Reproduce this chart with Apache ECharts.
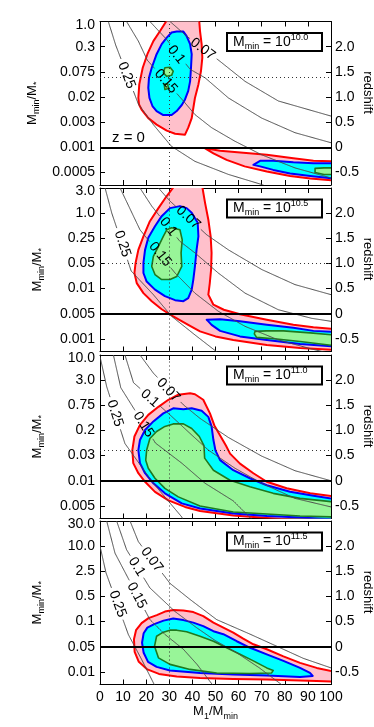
<!DOCTYPE html>
<html>
<head>
<meta charset="utf-8">
<script src="https://cdn.jsdelivr.net/npm/echarts@6/dist/echarts.min.js"></script>
<style>
  html, body { margin: 0; padding: 0; background: #fff; }
  #chart { width: 374px; height: 727px; }
</style>
</head>
<body>
<div id="chart"></div>
<script>
// x = M1/Mmin, y = redshift; left labels give Mmin/M* at the same heights
const X_TICKS_STEP = 10;
const Z_TICKS = [-0.5, 0, 0.5, 1, 1.5, 2];
const Z_LABELS = ['-0.5', '0', '0.5', '1.0', '1.5', '2.0'];
const LEFT_POS = [-0.5, 0, 0.5, 1, 1.5, 2, 2.43];
const LEFT_LABELS = [
  ['0.0005', '0.001', '0.003', '0.02', '0.075', '0.3', '1.0'],
  ['0.001', '0.005', '0.01', '0.05', '0.25', '1.0', '3.0'],
  ['0.005', '0.01', '0.03', '0.2', '0.75', '3.0', '10.0'],
  ['0.01', '0.05', '0.1', '0.5', '2.5', '10.0', '30.0']
];
const MMIN_EXP = ['10.0', '10.5', '11.0', '11.5'];
const DOT_X = 30;
const DOT_Z = [1.39, 1.0, 0.61, null];

// confidence regions, [x, z] outlines
const P1_RED = [
  [[30,2.6],[26.0,2.31],[23.1,2.11],[20.5,1.85],[18.5,1.58],[17.0,1.25],[16.6,0.98],[16.9,0.85],[18.0,0.75],[20.9,0.58],[24.5,0.45],[28.9,0.33],[32.5,0.27],[36.8,0.25],[38.2,0.39],[39.7,0.58],[40.4,0.78],[41.1,0.98],[42.6,1.25],[43.7,1.51],[44.3,1.78],[44.0,2.05],[43.3,2.31],[42.8,2.6]],
  [[45.5,-0.02],[52,-0.07],[62,-0.11],[72.2,-0.15],[83.7,-0.22],[92.4,-0.27],[101,-0.28],[101,-0.66],[91,-0.62],[82.3,-0.57],[72.2,-0.48],[62.6,-0.38],[54.8,-0.25],[49.1,-0.12]]
];
const P1_CYAN = [
  [[33.2,2.30],[31.0,2.28],[28.9,2.18],[26.7,2.05],[24.5,1.85],[22.4,1.58],[21.2,1.38],[20.9,1.18],[21.4,0.98],[22.7,0.82],[24.5,0.72],[27.4,0.64],[31.0,0.64],[33.2,0.72],[35.4,0.84],[36.8,0.95],[38.2,1.12],[39.0,1.31],[39.4,1.58],[39.7,1.85],[39.0,2.05],[37.5,2.21],[36.1,2.30]],
  [[66.4,-0.35],[69.3,-0.27],[75,-0.27],[83.7,-0.30],[92.4,-0.32],[101,-0.32],[101,-0.62],[91,-0.57],[82.3,-0.52],[75,-0.45],[69.3,-0.38]]
];
const P1_GREEN = [
  [[28.1,1.58],[30.3,1.59],[31.7,1.51],[31.0,1.43],[28.9,1.41],[27.4,1.48]],
  [[27.8,1.25],[29.3,1.26],[29.6,1.17],[28.1,1.15]],
  [[93.1,-0.42],[97,-0.41],[101,-0.41],[101,-0.54],[97,-0.54],[93.1,-0.50]]
];

const P2_RED = [
  [[33.2,2.6],[28.9,2.34],[25.3,2.10],[21.6,1.84],[18.8,1.54],[16.6,1.27],[15.4,1.01],[14.9,0.81],[15.9,0.61],[18.8,0.41],[22.4,0.25],[26.7,0.09],[31.7,-0.05],[38.2,-0.22],[43.3,-0.35],[50,-0.45],[57.7,-0.52],[72.2,-0.62],[86.6,-0.68],[101,-0.72],[101,-0.30],[92.4,-0.27],[83.7,-0.22],[72.2,-0.12],[60.6,-0.01],[53.6,0.08],[49.1,0.18],[46.9,0.38],[47.5,0.6],[48.1,0.88],[48.3,1.21],[47.9,1.54],[46.9,1.87],[45.5,2.20],[44.0,2.6]]
];
const P2_CYAN = [
  [[34.6,2.14],[30.3,2.10],[26.7,1.94],[23.8,1.74],[20.9,1.51],[19.5,1.27],[18.8,1.01],[18.8,0.81],[20.2,0.64],[23.8,0.48],[28.1,0.35],[32.5,0.27],[36.1,0.25],[38.2,0.31],[39.7,0.48],[40.4,0.68],[41.1,0.94],[41.8,1.27],[42.6,1.54],[42.3,1.81],[39.7,2.01],[37.5,2.10]],
  [[46.2,-0.12],[52,-0.11],[60.6,-0.15],[72.2,-0.22],[83.7,-0.28],[92.4,-0.34],[101,-0.36],[101,-0.65],[86.6,-0.60],[72.2,-0.52],[60.6,-0.45],[52,-0.34],[48.3,-0.22],[46.9,-0.15]]
];
const P2_GREEN = [
  [[31.0,1.71],[34.6,1.67],[35.6,1.47],[35.1,1.21],[35.4,0.94],[33.2,0.74],[30.3,0.68],[26.7,0.68],[23.8,0.78],[22.4,0.94],[23.1,1.14],[25.3,1.34],[27.4,1.54],[28.9,1.67]],
  [[67.1,-0.35],[72,-0.34],[79.4,-0.34],[91,-0.38],[101,-0.42],[101,-0.63],[86.6,-0.55],[76.5,-0.50],[67.8,-0.47],[66.8,-0.40]]
];

const P3_RED = [
  [[39.0,1.74],[33.9,1.71],[29.6,1.61],[25.3,1.47],[20.9,1.31],[17.3,1.11],[14.9,0.88],[14.0,0.61],[14.4,0.35],[16.6,0.15],[19.5,-0.02],[23.8,-0.22],[29.6,-0.39],[36.8,-0.52],[43.3,-0.60],[57.7,-0.69],[72.2,-0.74],[85,-0.78],[101,-0.82],[101,-0.31],[91,-0.25],[80.8,-0.15],[72.2,-0.02],[66.4,0.15],[60.6,0.34],[56.3,0.54],[54.5,0.7],[52,0.9],[49.5,1.1],[47.6,1.34],[44.7,1.61],[41.1,1.72]]
];
const P3_CYAN = [
  [[31.7,1.44],[27.4,1.34],[23.1,1.18],[19.5,1.01],[17.3,0.81],[16.6,0.61],[17.3,0.35],[19.5,0.15],[23.1,-0.05],[28.1,-0.25],[35.4,-0.45],[43.3,-0.55],[57.7,-0.65],[72.2,-0.70],[86.6,-0.73],[101,-0.77],[101,-0.36],[92.4,-0.30],[82.3,-0.22],[72.2,-0.09],[64.9,0.05],[57.7,0.21],[52,0.41],[50,0.6],[49.1,0.81],[48.3,1.08],[46.9,1.27],[44.0,1.39],[39.7,1.44],[36.1,1.42]]
];
const P3_GREEN = [
  [[31.7,1.13],[28.1,1.08],[24.5,0.98],[21.6,0.84],[20.2,0.61],[19.8,0.41],[20.9,0.25],[23.8,0.05],[28.1,-0.15],[33.9,-0.32],[43.3,-0.50],[57.7,-0.62],[72.2,-0.66],[86.6,-0.70],[101,-0.72],[101,-0.42],[86.6,-0.35],[75,-0.25],[64.9,-0.12],[56.3,0.01],[49.1,0.21],[45.3,0.45],[45,0.7],[43,0.88],[39.7,1.04],[36.1,1.13]]
];

const P4_RED = [
  [[31.7,0.73],[28.1,0.70],[24.6,0.63],[21.0,0.57],[18.0,0.47],[15.6,0.33],[14.7,0.15],[15.0,-0.10],[16.8,-0.30],[20.5,-0.45],[25.5,-0.54],[33.2,-0.59],[43.3,-0.62],[57.7,-0.64],[72.2,-0.65],[86.6,-0.67],[93.8,-0.68],[101,-0.69],[101,-0.49],[93.8,-0.42],[86.6,-0.32],[79.4,-0.19],[72.2,-0.05],[66.4,0.05],[62.0,0.16],[57.7,0.28],[53.4,0.38],[49.1,0.48],[44.7,0.61],[40.4,0.69],[36.1,0.72]]
];
const P4_CYAN = [
  [[31.7,0.56],[27.5,0.52],[23.5,0.45],[20.5,0.38],[18.9,0.27],[18.2,0.08],[18.9,-0.12],[20.8,-0.30],[24.5,-0.40],[30.3,-0.47],[43.3,-0.52],[57.7,-0.55],[72.2,-0.57],[86.6,-0.60],[92.1,-0.58],[90.9,-0.52],[86.6,-0.42],[79.4,-0.28],[72.2,-0.15],[65,-0.02],[59.2,0.11],[53.4,0.25],[49.1,0.31],[44.7,0.41],[40.4,0.48],[36.1,0.53]]
];
const P4_GREEN = [
  [[30.3,0.33],[27.4,0.29],[24.5,0.21],[23.6,0.01],[25.3,-0.22],[30.3,-0.35],[39.0,-0.45],[50.5,-0.52],[64.9,-0.53],[74.3,-0.52],[75.0,-0.47],[72.2,-0.42],[66.4,-0.28],[60.6,-0.15],[54.8,-0.02],[49.1,0.11],[43.3,0.21],[37.5,0.30],[33.2,0.33]]
];

// labelled iso-lines: text, label anchor, points
const P1_LINES = [
  { t: '0.07', at: [44.5,1.95], pts: [[30.3,2.5],[37.5,2.21],[51.9,1.71],[62.8,1.31],[77.2,0.92],[100,0.62]] },
  { t: '0.1', at: [33,1.84], pts: [[21.6,2.5],[28.9,2.14],[39,1.55],[45.5,1.38],[55.6,0.98],[70,0.58],[84.4,0.29],[100,0.09]] },
  { t: '0.15', at: [28.5,1.31], pts: [[11.5,2.5],[16.6,2.11],[20.5,1.73],[36.1,0.92],[41.1,0.65],[48.3,0.39],[58.4,0.12],[70,-0.15],[84.4,-0.41],[100,-0.61]] },
  { t: '0.25', at: [11.5,1.43], pts: [[3.6,2.5],[6.8,2.03],[16.6,0.86],[23.1,0.45],[30.9,0.02],[41.1,-0.28],[55.6,-0.54],[70,-0.74],[72,-0.78]] }
];
const P2_LINES = [
  { t: '0.07', at: [38.2,1.91], pts: [[25.3,2.5],[30.3,2.24],[46.2,1.57],[55.6,1.27],[70,0.88],[84.4,0.58],[100,0.38]] },
  { t: '0.1', at: [29.6,1.73], pts: [[17.3,2.5],[22.4,2.14],[34.6,1.44],[41.1,1.21],[51.2,0.81],[62.8,0.41],[77.2,0.08],[91.6,-0.09],[100,-0.15]] },
  { t: '0.15', at: [26,1.18], pts: [[8.7,2.5],[17.3,1.67],[32.5,0.81],[41.1,0.41],[51.2,0.05],[62.8,-0.25],[77.2,-0.52],[91.6,-0.70],[98.8,-0.78]] },
  { t: '0.25', at: [9.7,1.39], pts: [[2.2,2.5],[5.1,2.0],[13.5,0.85],[23.1,0.38],[31,-0.05],[41.1,-0.42],[51.2,-0.78]] }
];
const P3_LINES = [
  { t: '0.07', at: [29.6,1.8], pts: [[17.3,2.5],[23.1,2.14],[36.1,1.51],[43.3,1.24],[55.6,0.86],[70,0.49],[84.4,0.20],[100,0.0]] },
  { t: '0.1', at: [21.6,1.64], pts: [[10.8,2.5],[14.5,1.95],[30.3,1.31],[39.7,0.91],[46.9,0.61],[58.4,0.25],[70,-0.05],[84.4,-0.35],[100,-0.52]] },
  { t: '0.15', at: [18.8,1.12], pts: [[5.8,2.5],[9,1.85],[24,0.75],[35.4,0.35],[45.5,-0.05],[57.7,-0.40],[66,-0.78]] },
  { t: '0.25', at: [6.5,1.34], pts: [[0,2.47],[2.9,1.87],[10.8,0.74],[23.1,-0.05],[35.4,-0.72],[36,-0.78]] }
];
const P4_LINES = [
  { t: '0.07', at: [22.4,1.73], pts: [[13,2.5],[16.6,2.09],[30.3,1.26],[39,0.94],[50.5,0.54],[65,0.25],[77,0],[88,-0.23],[100,-0.42]] },
  { t: '0.1', at: [15.9,1.59], pts: [[7.2,2.5],[11.5,1.93],[21.6,1.17],[32.5,0.7],[41.8,0.38],[50,0.12],[59.2,-0.12],[69,-0.42],[79.4,-0.78]] },
  { t: '0.15', at: [15.9,1.02], pts: [[2.9,2.5],[6.5,1.86],[21.6,0.54],[28,0.25],[36.1,-0.05],[42,-0.35],[49.1,-0.78]] },
  { t: '0.25', at: [7.6,0.85], pts: [[0,2.0],[2.6,1.47],[12.3,0.24],[18,-0.25],[23.8,-0.78]] }
];

const PANELS = [
  { red: P1_RED, cyan: P1_CYAN, green: P1_GREEN, lines: P1_LINES },
  { red: P2_RED, cyan: P2_CYAN, green: P2_GREEN, lines: P2_LINES },
  { red: P3_RED, cyan: P3_CYAN, green: P3_GREEN, lines: P3_LINES },
  { red: P4_RED, cyan: P4_CYAN, green: P4_GREEN, lines: P4_LINES }
];

const FONT = '"Liberation Sans", Arial, sans-serif';
const GRID_TOP = [21.5, 188, 355, 521];
const GRID_H = 163.5;
const LEVELS = [
  { fill: '#ffc0cb', stroke: '#ff0000', w: 2 },
  { fill: '#00ffff', stroke: '#0000ff', w: 2 },
  { fill: '#98f598', stroke: '#1f7a1f', w: 1.6 }
];

var chart = echarts.init(document.getElementById('chart'));

const grids = [], xAxes = [], yAxes = [], series = [], graphics = [];
const black = { color: '#000', width: 1 };

PANELS.forEach(function (pn, p) {
  grids.push({ left: 100, width: 231, top: GRID_TOP[p], height: GRID_H });
  const last = p === 3;

  xAxes.push({
    gridIndex: p, type: 'value', min: 0, max: 100, interval: X_TICKS_STEP, position: 'bottom',
    axisLine: { show: true, onZero: false, lineStyle: black },
    axisTick: { inside: true, length: 5, lineStyle: black },
    axisLabel: { show: last, margin: 6, fontSize: 14, color: '#000', fontFamily: FONT },
    splitLine: { show: false },
    name: last ? '{a|M}{b|1}{a|/M}{b|min}' : '',
    nameLocation: 'middle', nameGap: 14,
    nameTextStyle: {
      rich: {
        a: { fontSize: 13, lineHeight: 18, color: '#000', fontFamily: FONT },
        b: { fontSize: 9, lineHeight: 8, verticalAlign: 'bottom', color: '#000', fontFamily: FONT }
      }
    }
  });
  xAxes.push({
    gridIndex: p, type: 'value', min: 0, max: 100, interval: X_TICKS_STEP, position: 'top',
    axisLine: { show: true, onZero: false, lineStyle: black },
    axisTick: { inside: true, length: 5, lineStyle: black },
    axisLabel: { show: false }, splitLine: { show: false }
  });

  const lbl = LEFT_LABELS[p];
  yAxes.push({
    gridIndex: p, type: 'value', min: -0.75, max: 2.5, position: 'left',
    axisLine: { show: true, onZero: false, lineStyle: black },
    axisTick: { inside: true, length: 5, customValues: Z_TICKS, lineStyle: black },
    axisLabel: {
      customValues: LEFT_POS, margin: 5, fontSize: 14, color: '#000', fontFamily: FONT,
      formatter: function (v) {
        const j = LEFT_POS.findIndex(function (q) { return Math.abs(q - v) < 1e-6; });
        return j >= 0 ? lbl[j] : '';
      }
    },
    splitLine: { show: false },
    name: '{a|M}{b|min}{a|/M}{b|*}',
    nameLocation: 'middle', nameGap: 54, nameRotate: 90,
    nameTextStyle: {
      rich: {
        a: { fontSize: 13, lineHeight: 18, color: '#000', fontFamily: FONT },
        b: { fontSize: 9, lineHeight: 8, verticalAlign: 'bottom', color: '#000', fontFamily: FONT }
      }
    }
  });
  yAxes.push({
    gridIndex: p, type: 'value', min: -0.75, max: 2.5, position: 'right',
    axisLine: { show: true, onZero: false, lineStyle: black },
    axisTick: { inside: true, length: 5, customValues: Z_TICKS, lineStyle: black },
    axisLabel: {
      customValues: Z_TICKS, margin: 4, fontSize: 14, color: '#000', fontFamily: FONT,
      formatter: function (v) {
        const j = Z_TICKS.findIndex(function (q) { return Math.abs(q - v) < 1e-6; });
        return j >= 0 ? Z_LABELS[j] : '';
      }
    },
    splitLine: { show: false }
  });

  // filled confidence regions: red first, then cyan, then green on top
  const items = [];
  [pn.red, pn.cyan, pn.green].forEach(function (polys, lv) {
    polys.forEach(function (poly) { items.push({ lv: lv, poly: poly }); });
  });
  series.push({
    type: 'custom', xAxisIndex: p * 2, yAxisIndex: p * 2, clip: true, silent: true, z: 2,
    data: items.map(function (it, i) { return [it.poly[0][0], it.poly[0][1], i]; }),
    renderItem: function (params, api) {
      const it = items[api.value(2)];
      const st = LEVELS[it.lv];
      return {
        type: 'polygon',
        shape: { points: it.poly.map(function (q) { return api.coord(q); }) },
        style: { fill: st.fill, stroke: st.stroke, lineWidth: st.w, lineJoin: 'round' }
      };
    }
  });

  // iso-lines, broken where their label sits
  const curves = pn.lines;
  series.push({
    type: 'custom', xAxisIndex: p * 2, yAxisIndex: p * 2, clip: true, silent: true, z: 3,
    data: curves.map(function (c, i) { return [c.at[0], c.at[1], i]; }),
    renderItem: function (params, api) {
      const c = curves[api.value(2)];
      const pts = c.pts.map(function (q) { return api.coord(q); });
      const a = api.coord(c.at);
      const R = c.t.length * 3.6 + 2;
      const runs = [];
      let cur = [], best = Infinity, ang = 0;
      for (let k = 0; k < pts.length - 1; k++) {
        const x0 = pts[k][0], y0 = pts[k][1], x1 = pts[k + 1][0], y1 = pts[k + 1][1];
        const n = Math.max(1, Math.ceil(Math.hypot(x1 - x0, y1 - y0)));
        for (let s = 0; s <= n; s++) {
          const x = x0 + (x1 - x0) * s / n, y = y0 + (y1 - y0) * s / n;
          const d = Math.hypot(x - a[0], y - a[1]);
          if (d < best) { best = d; ang = Math.atan2(y1 - y0, x1 - x0); }
          if (d > R) cur.push([x, y]);
          else if (cur.length) { runs.push(cur); cur = []; }
        }
      }
      if (cur.length) runs.push(cur);
      const children = runs.filter(function (r) { return r.length > 1; }).map(function (r) {
        return { type: 'polyline', shape: { points: r }, style: { stroke: '#4a4a4a', lineWidth: 1, fill: null } };
      });
      children.push({
        type: 'text', x: a[0], y: a[1], rotation: -ang,
        style: { text: c.t, font: '14px ' + FONT, fill: '#000', align: 'center', verticalAlign: 'middle' }
      });
      return { type: 'group', children: children };
    }
  });

  // dotted guides and the z = 0 line
  const dotted = { type: [1, 3], color: '#333', width: 1 };
  const ml = [{ xAxis: DOT_X, lineStyle: dotted }];
  if (DOT_Z[p] !== null) ml.push({ yAxis: DOT_Z[p], lineStyle: dotted });
  ml.push({ yAxis: 0, lineStyle: { type: 'solid', color: '#000', width: 2 } });
  series.push({
    type: 'line', xAxisIndex: p * 2, yAxisIndex: p * 2, data: [], silent: true, z: 4,
    markLine: { silent: true, symbol: ['none', 'none'], label: { show: false }, animation: false, data: ml }
  });

  // Mmin box
  graphics.push({
    type: 'group', x: 227, y: GRID_TOP[p] + 11.5, z: 10,
    children: [
      { type: 'rect', shape: { x: 0, y: 0, width: 95, height: 18 }, style: { fill: '#fff', stroke: '#000', lineWidth: 2 } },
      {
        type: 'text', x: 6, y: 9,
        style: {
          text: '{a|M}{b|min}{a| = 10}{c|' + MMIN_EXP[p] + '}',
          verticalAlign: 'middle', align: 'left',
          rich: {
            a: { fontSize: 14, lineHeight: 18, fill: '#000', fontFamily: FONT },
            b: { fontSize: 9, lineHeight: 8, verticalAlign: 'bottom', fill: '#000', fontFamily: FONT },
            c: { fontSize: 9, lineHeight: 8, verticalAlign: 'top', fill: '#000', fontFamily: FONT }
          }
        }
      }
    ]
  });
  graphics.push({
    type: 'text', x: 368, y: GRID_TOP[p] + 71, rotation: -Math.PI / 2, z: 10,
    style: { text: 'redshift', font: '13px ' + FONT, fill: '#000', align: 'center', verticalAlign: 'middle' }
  });
});

graphics.push({
  type: 'text', x: 112, y: 137.5, z: 10,
  style: { text: 'z = 0', font: '15px ' + FONT, fill: '#000', align: 'left', verticalAlign: 'middle' }
});

option = {
  animation: false,
  backgroundColor: '#fff',
  grid: grids,
  xAxis: xAxes,
  yAxis: yAxes,
  series: series,
  graphic: graphics
};
chart.setOption(option);
</script>
</body>
</html>
